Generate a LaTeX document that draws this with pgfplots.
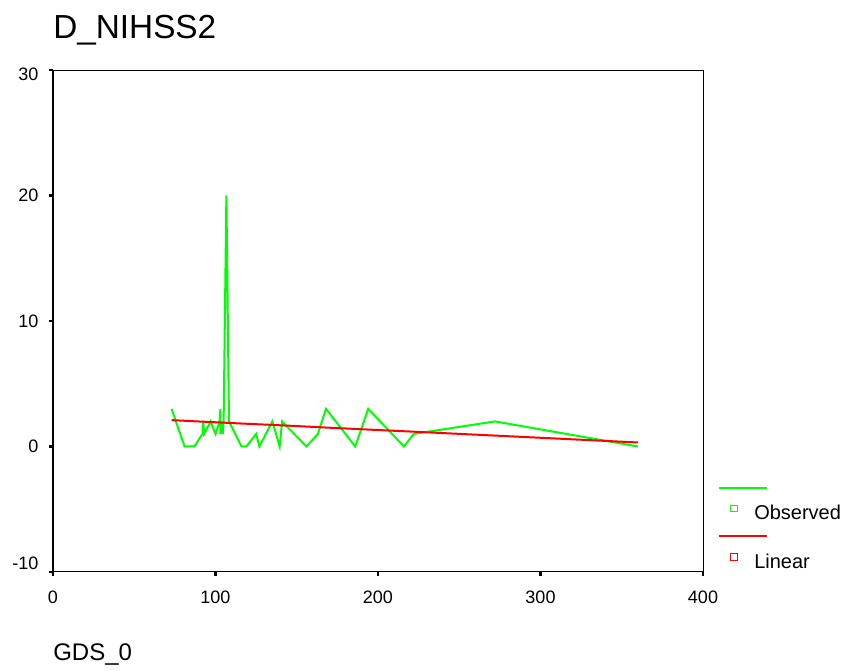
\documentclass[border=0pt]{standalone}
\usepackage{pgfplots}
\pgfplotsset{compat=1.18}
\usepackage{fontspec}
\setmainfont{Liberation Sans}
\definecolor{obsgreen}{RGB}{0,255,0}
\definecolor{linred}{RGB}{255,0,0}
\begin{document}
\begin{tikzpicture}
\path[use as bounding box] (-39.75pt,-74.25pt) rectangle (593.25pt,429pt);
\begin{axis}[
    scale only axis,
    width=487.5pt, height=376.5pt,
    xmin=0, xmax=400, ymin=-10, ymax=30,
    xtick={0,100,200,300,400},
    ytick={-10,0,10,20,30},
    yticklabels={\raisebox{6.75pt}[\height][\depth]{-10}, 0, 10, 20, \raisebox{-3pt}[\height][\depth]{30}},
    tick pos=left,
    tick align=outside,
    major tick length=3pt,
    every tick/.style={black, line width=2pt},
    axis line style={line width=0.75pt},
    /pgf/number format/assume math mode=true,
    ticklabel style={font=\fontsize{13.5}{16}\selectfont},
    xticklabel style={yshift=-8pt},
    yticklabel style={xshift=-4.5pt},
    legend style={at={(rel axis cs:1,0)}, anchor=north west, xshift=12pt, yshift=63.5pt,
        draw=none, fill=none, inner sep=0pt,
        font=\fontsize{15}{18}\selectfont,
        row sep=10.75pt, column sep=0pt,
        nodes={inner sep=0pt}},
    legend cell align=left,
    legend image code/.code={
        \draw[#1, line width=1.5pt, overlay] (0pt,19.5pt) -- (36pt,19.5pt);
        \path[draw=none] (0pt,19.5pt) -- (26.25pt,19.5pt);
        \draw[#1, line width=0.75pt, fill=white] (8.75pt,1.25pt) rectangle (13.75pt,6.25pt);
    },
]
\addplot[obsgreen, line width=1.5pt] coordinates {
    (73,3) (81,0) (87,0) (92,1) (92.5,2) (93,1) (97,2) (100,1)
    (102.5,2) (103,3) (103,1) (104,2) (104.5,1) (105,2) (106.7,20) (108.3,2)
    (116,0) (119,0) (125,1) (127,0) (135,2) (139.5,0) (141,2) (156,0)
    (163,1) (168,3) (186,0) (194,3) (216,0) (222,1) (272,2) (360,0)
};
\addlegendentry{Observed}
\addplot[linred, line width=1.5pt] coordinates {
    (73,2.10) (92,1.98) (105,1.90) (116,1.83) (135,1.72) (156,1.59)
    (168,1.51) (194,1.35) (222,1.18) (272,0.87) (360,0.32)
};
\addlegendentry{Linear}
\draw[line width=2pt] (rel axis cs:0,1) -- (rel axis cs:0,0) -- (rel axis cs:1,0);
\end{axis}
\node[anchor=west, font=\fontsize{25}{30}\selectfont, inner sep=0pt] at (0pt,406.5pt) {D\_NIHSS2};
\node[anchor=west, font=\fontsize{18}{22}\selectfont, inner sep=0pt] at (0pt,-62.25pt) {GDS\_0};
\end{tikzpicture}
\end{document}
